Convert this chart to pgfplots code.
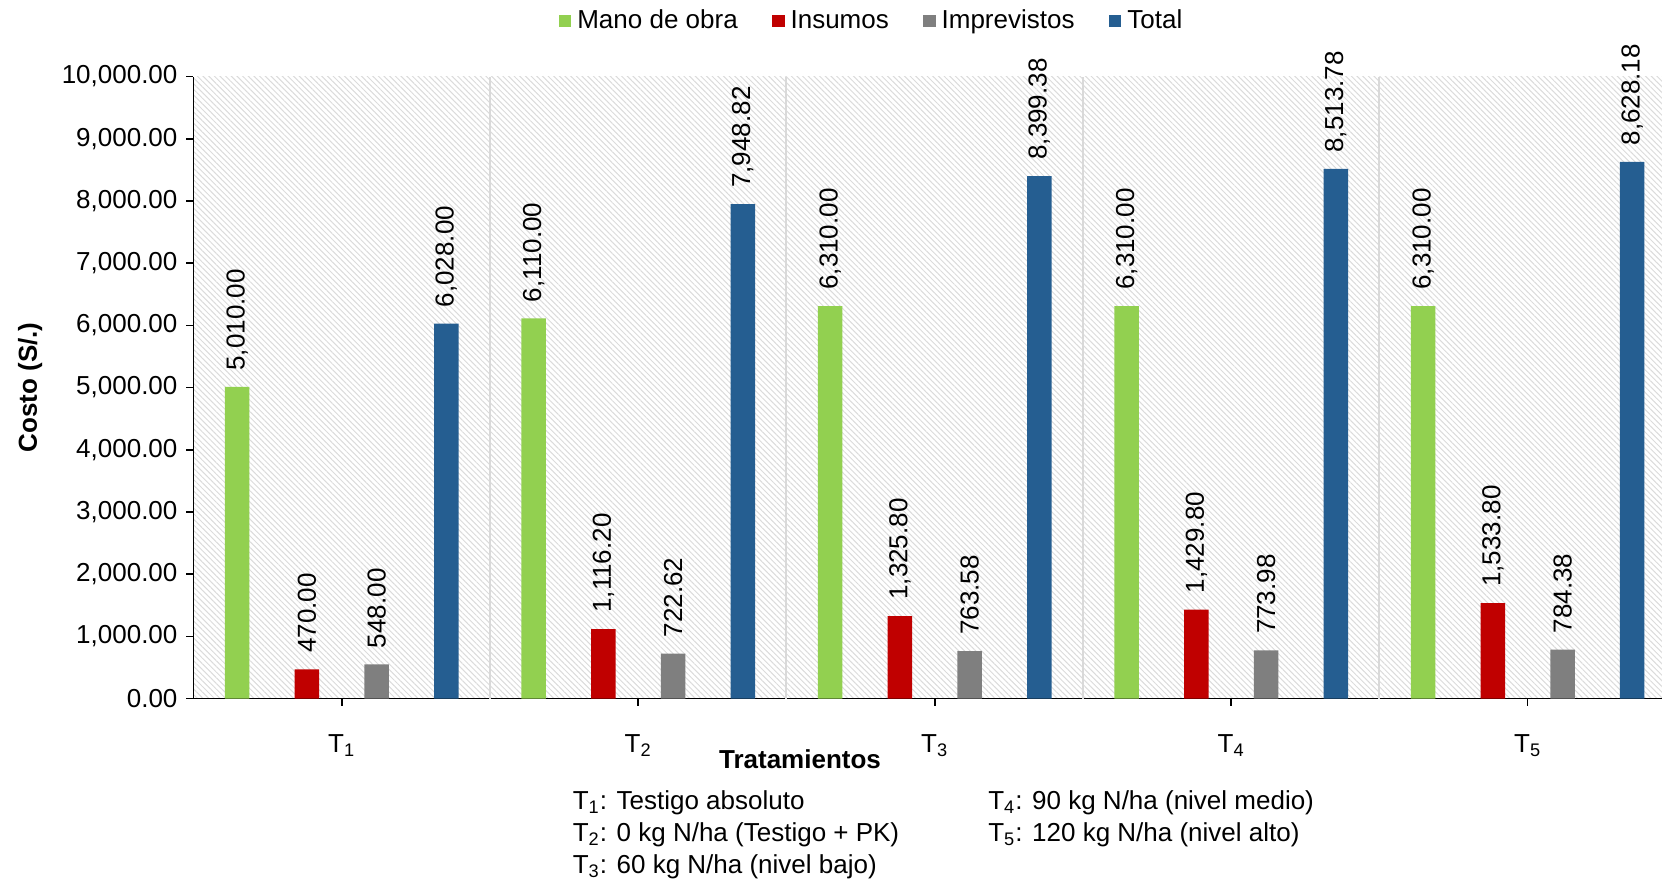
\documentclass[border=0pt]{standalone}
\usepackage{fontspec}
\setmainfont{Liberation Sans}
\usepackage{pgfplots}
\pgfplotsset{compat=1.18}
\usetikzlibrary{patterns.meta}
\definecolor{cgreen}{HTML}{92D050}
\definecolor{cred}{HTML}{C00000}
\definecolor{cgray}{HTML}{7F7F7F}
\definecolor{cblue}{HTML}{255E91}
\definecolor{csep}{HTML}{D9D9D9}
\begin{document}
\fontsize{13}{15.6}\selectfont
\begin{tikzpicture}
\path[use as bounding box] (-96.75pt,-90.75pt) rectangle (734.25pt,349.25pt);
\begin{axis}[
  at={(0pt,0pt)}, anchor=south west,
  scale only axis, width=734.25pt, height=311pt,
  xmin=0.5, xmax=5.453, ymin=0, ymax=10000,
  clip=false,
  ybar=22.6pt, bar width=12.25pt,
  axis x line*=bottom, axis y line*=left,
  axis line style={line width=0.8pt,-},
  xtick={1,2,3,4,5},
  xticklabels={T\textsubscript{1},T\textsubscript{2},T\textsubscript{3},T\textsubscript{4},T\textsubscript{5}},
  ytick={0,1000,...,10000},
  tick align=outside, major tick length=3.5pt,
  tick style={black, line width=0.8pt},
  scaled y ticks=false,
  y tick label style={/pgf/number format/.cd, fixed, fixed zerofill, precision=2, 1000 sep={,}, assume math mode=true},
  x tick label style={yshift=-10pt},
  extra x ticks={1.5,2.5,3.5,4.5},
  extra x tick labels={},
  extra x tick style={grid=major, major grid style={csep, line width=1pt}, major tick length=0pt},
  axis background/.style={pattern={Lines[angle=-45,distance=2pt,line width=0.5pt]}, pattern color=black!14},
  xlabel={\bfseries Tratamientos},
  xlabel style={at={(axis description cs:0.413,-0.0973)}, anchor=center},
  ylabel={\bfseries Costo (S/.)},
  ylabel style={at={(axis description cs:-0.1113,0.5)}, anchor=center},
  legend style={at={(axis description cs:0.463,1.0892)}, anchor=center, draw=none, fill=none,
    legend columns=4, /tikz/every even column/.append style={column sep=14pt}, nodes={inner xsep=3pt}},
  legend cell align=left,
  point meta=y,
  nodes near coords={\pgfmathprintnumber[fixed,fixed zerofill,precision=2,1000 sep={,},assume math mode=true]{\pgfplotspointmeta}},
  nodes near coords style={rotate=90, anchor=west, inner xsep=8pt, inner ysep=0pt, black},
]
\addplot[fill=cgreen, draw=none,
  legend image code/.code={\fill[cgreen] (0pt,-3.2pt) rectangle (6.4pt,3.2pt);}]
  coordinates {(1,5010) (2,6110) (3,6310) (4,6310) (5,6310)};
\addplot[fill=cred, draw=none,
  legend image code/.code={\fill[cred] (0pt,-3.2pt) rectangle (6.4pt,3.2pt);}]
  coordinates {(1,470) (2,1116.20) (3,1325.80) (4,1429.80) (5,1533.80)};
\addplot[fill=cgray, draw=none,
  legend image code/.code={\fill[cgray] (0pt,-3.2pt) rectangle (6.4pt,3.2pt);}]
  coordinates {(1,548) (2,722.62) (3,763.58) (4,773.98) (5,784.38)};
\addplot[fill=cblue, draw=none,
  legend image code/.code={\fill[cblue] (0pt,-3.2pt) rectangle (6.4pt,3.2pt);}]
  coordinates {(1,6028) (2,7948.82) (3,8399.38) (4,8513.78) (5,8628.18)};
\legend{Mano de obra, Insumos, Imprevistos, Total}
\end{axis}
\node[anchor=base west, inner sep=0pt] at (189.45pt,-55.5pt) {T\textsubscript{1}: Testigo absoluto};
\node[anchor=base west, inner sep=0pt] at (189.45pt,-71.4pt) {T\textsubscript{2}: 0 kg N/ha (Testigo + PK)};
\node[anchor=base west, inner sep=0pt] at (189.45pt,-87.3pt) {T\textsubscript{3}: 60 kg N/ha (nivel bajo)};
\node[anchor=base west, inner sep=0pt] at (397.2pt,-55.5pt) {T\textsubscript{4}: 90 kg N/ha (nivel medio)};
\node[anchor=base west, inner sep=0pt] at (397.2pt,-71.4pt) {T\textsubscript{5}: 120 kg N/ha (nivel alto)};
\end{tikzpicture}
\end{document}
